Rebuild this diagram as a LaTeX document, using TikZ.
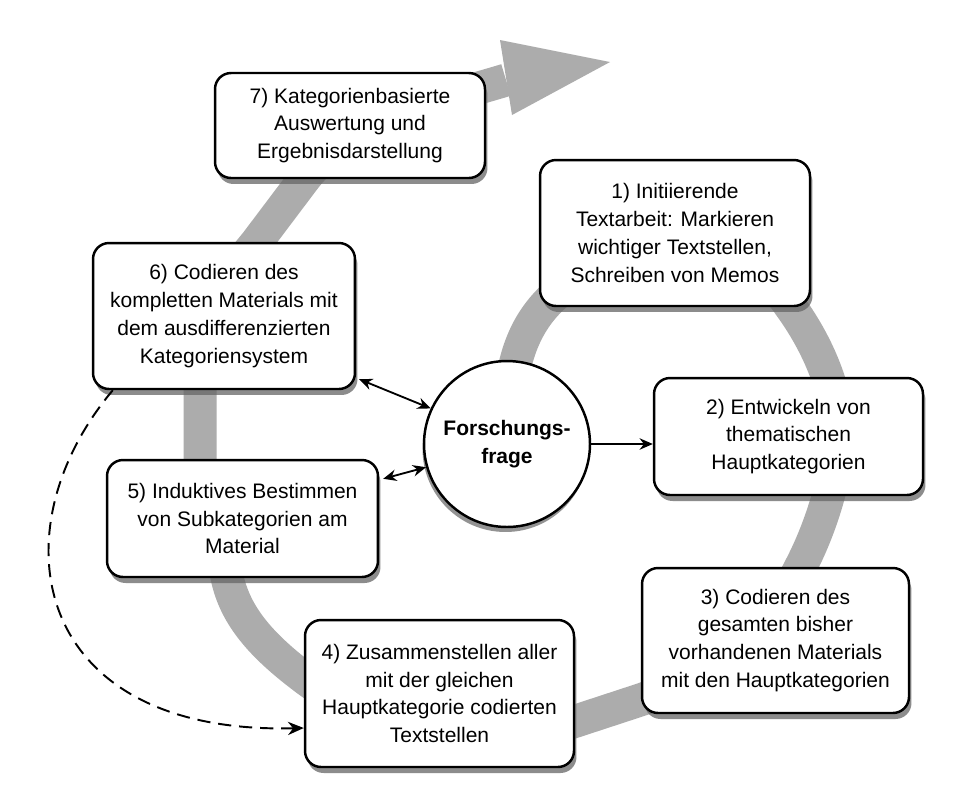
\documentclass[tikz,border=0pt]{standalone}
\usepackage{fontspec}
\setmainfont{Liberation Sans}
\usetikzlibrary{arrows.meta,shadows}
\definecolor{band}{RGB}{172,172,172}
\begin{document}
\begin{tikzpicture}[x=0.02cm,y=-0.02cm,
  txt/.style={font=\fontsize{11.95pt}{15.9pt}\selectfont},
  box/.style={txt, draw, line width=1.4pt, rounded corners=0.32cm, fill=white, align=center, inner sep=0pt,
    drop shadow={shadow xshift=0.05cm, shadow yshift=-0.12cm, fill=black!60, opacity=0.75}},
  frage/.style={txt, circle, draw, line width=1.4pt, fill=white, align=center, inner sep=0pt, minimum size=3.32cm,
    drop shadow={shadow xshift=-0.03cm, shadow yshift=-0.1cm, fill=black!60, opacity=0.7}},
  arr/.style={line width=1.05pt, -{Stealth[length=7.5pt,width=6.5pt]}},
  darr/.style={line width=1.05pt, {Stealth[length=7.5pt,width=6.5pt]}-{Stealth[length=7.5pt,width=6.5pt]}},
  dasharr/.style={line width=1.1pt, dash pattern=on 7.5pt off 4.5pt, -{Stealth[length=9pt,width=7.5pt]}},
  bandline/.style={draw=band, line width=0.66cm, line join=round}
]
\useasboundingbox (0,0) rectangle (963,789);
\fill[white] (0,0) rectangle (963,789);

% grey spiral band
\draw[bandline] (508,430)
  .. controls (509,370) and (520,330) .. (550,300)
  .. controls (600,250) and (740,230) .. (790,306)
  .. controls (822,350) and (840,400) .. (838,440)
  .. controls (836,480) and (820,530) .. (800,568)
  .. controls (775,620) and (700,680) .. (640,700)
  -- (573,722)
  .. controls (480,752) and (360,720) .. (307,680)
  .. controls (260,645) and (235,615) .. (227,577)
  .. controls (215,520) and (200,500) .. (200,460)
  -- (200,389)
  .. controls (200,320) and (225,280) .. (256,243)
  -- (305,178)
  .. controls (350,120) and (440,100) .. (506,80);
\fill[band] (500,40) -- (610,62) -- (512,115) -- cycle;

% nodes
\node[box, minimum width=5.4cm, minimum height=2.1cm] (b7) at (350,125.5)
  {7) Kategorienbasierte\\Auswertung und\\Ergebnisdarstellung};
\node[box, minimum width=5.4cm, minimum height=2.92cm] (b1) at (675,233)
  {1) Initiierende\\Textarbeit: Markieren\\wichtiger Textstellen,\\Schreiben von Memos};
\node[box, minimum width=5.24cm, minimum height=2.92cm] (b6) at (224,316)
  {6) Codieren des\\kompletten Materials mit\\dem ausdifferenzierten\\Kategoriensystem};
\node[frage] (q) at (507,444) {\bfseries Forschungs-\\\bfseries frage};
\node[box, minimum width=5.38cm, minimum height=2.34cm] (b2) at (788.5,436.5)
  {2) Entwickeln von\\thematischen\\Hauptkategorien};
\node[box, minimum width=5.42cm, minimum height=2.34cm] (b5) at (242.5,518.5)
  {5) Induktives Bestimmen\\von Subkategorien am\\Material};
\node[box, minimum width=5.34cm, minimum height=2.9cm] (b3) at (775.5,640.5)
  {3) Codieren des\\gesamten bisher\\vorhandenen Materials\\mit den Hauptkategorien};
\node[box, minimum width=5.38cm, minimum height=2.94cm] (b4) at (439.5,693.5)
  {4) Zusammenstellen aller\\mit der gleichen\\Hauptkategorie codierten\\Textstellen};

% connectors
\draw[arr] (q.east) -- (q.east -| b2.west);
\draw[darr] ([shift={(3,-11)}]b6.south east) -- (q.155);
\draw[darr] ([shift={(4,20)}]b5.north east) -- (q.196);
\draw[dasharr] ([shift={(21,0)}]b6.south west) .. controls (-5,530) and (30,735) .. ([shift={(0,34.5)}]b4.west);
\end{tikzpicture}
\end{document}
